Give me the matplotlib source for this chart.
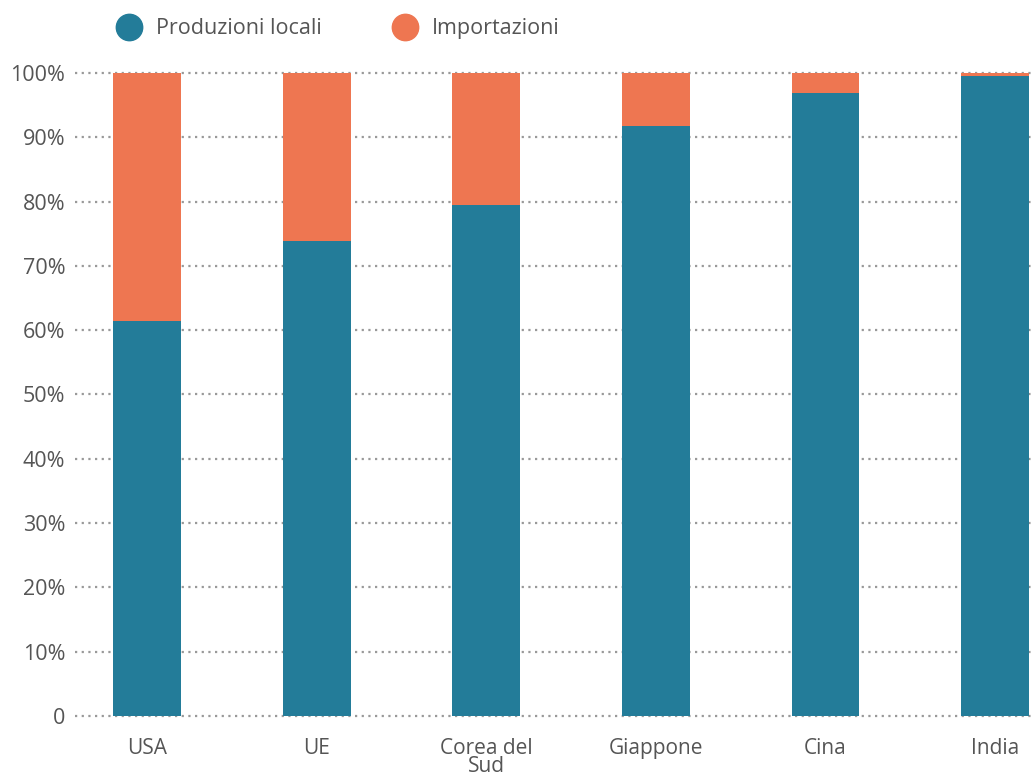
import matplotlib
matplotlib.use("Agg")
from matplotlib import pyplot as plt
from matplotlib.lines import Line2D

paesi = ["USA", "UE", "Corea del\nSud", "Giappone", "Cina", "India"]
produzioni_locali = [61.5, 73.9, 79.5, 91.8, 96.9, 99.6]
importazioni = [100 - v for v in produzioni_locali]
tick_valori = [0, 10, 20, 30, 40, 50, 60, 70, 80, 90, 100]
tick_etichette = ["0"] + [str(v) + "%" for v in tick_valori[1:]]

blu = "#237c99"
arancio = "#ee7651"
grigio = "#555555"

plt.rcParams["font.family"] = ["Open Sans", "DejaVu Sans"]

fig = plt.figure(figsize=(10.33, 7.78), dpi=100)
ax = fig.add_axes([0.0726, 0.0797, 0.9274, 0.8265])

x = list(range(len(paesi)))
ax.bar(x, produzioni_locali, width=0.40, color=blu, zorder=3)
ax.bar(x, importazioni, bottom=produzioni_locali, width=0.40, color=arancio, zorder=3)

ax.set_xlim(-0.425, 5.224)
ax.set_ylim(0, 100)
ax.set_yticks(tick_valori)
ax.set_yticklabels(tick_etichette, fontsize=15.5)
ax.set_xticks(x)
ax.set_xticklabels(paesi, linespacing=0.8, fontsize=15)

for v in tick_valori:
    ax.axhline(v, color="#999999", linestyle=(0, (1, 2)), linewidth=1.6, zorder=1, clip_on=False)

for s in ax.spines.values():
    s.set_visible(False)
ax.tick_params(axis="both", length=0, colors=grigio)
ax.tick_params(axis="y", pad=7)
ax.tick_params(axis="x", pad=16)

handles = [
    Line2D([], [], marker="o", linestyle="", markersize=19, color=blu, label="Produzioni locali"),
    Line2D([], [], marker="o", linestyle="", markersize=19, color=arancio, label="Importazioni"),
]
leg = fig.legend(handles=handles, loc="center left", bbox_to_anchor=(0.085, 0.963), ncol=2,
                 frameon=False, fontsize=15.5, handletextpad=0.25, columnspacing=2.9)
for t in leg.get_texts():
    t.set_color(grigio)

plt.savefig("out.png", dpi=100)
